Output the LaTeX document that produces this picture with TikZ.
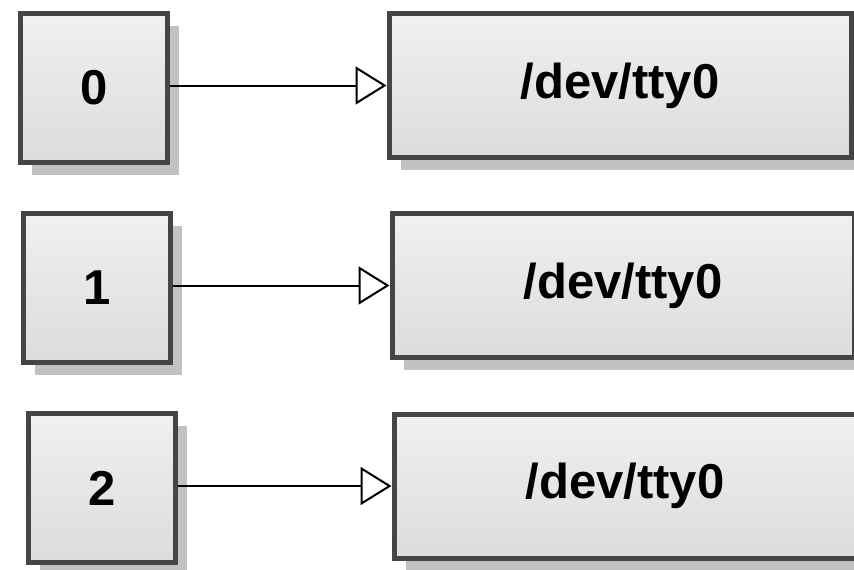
\documentclass[tikz,border=0pt]{standalone}
\usepackage{fontspec}
\setmainfont{Liberation Sans}
\usetikzlibrary{arrows.meta,shadows}
\definecolor{boxtop}{HTML}{F0F0F0}
\definecolor{boxbot}{HTML}{DCDCDC}
\definecolor{boxline}{HTML}{454545}
\definecolor{shadowc}{HTML}{C2C2C2}
\tikzset{
  basebox/.style={draw=boxline, line width=5pt, top color=boxtop, bottom color=boxbot,
    inner sep=0pt, font=\fontsize{49}{56}\selectfont\bfseries,
    drop shadow={shadow xshift=11.5pt, shadow yshift=-12pt, fill=shadowc, opacity=1}},
  numbox/.style={basebox, minimum width=147pt, minimum height=149pt},
  devbox/.style={basebox, minimum width=462pt, minimum height=144pt},
  link/.style={line width=2pt, -{Triangle[open, length=31pt, width=38pt, line width=2pt]}}
}
\begin{document}
\begin{tikzpicture}[x=1pt, y=-1pt]
\useasboundingbox (0,0) rectangle (854,570);
\clip (0,0) rectangle (854,570);
\node[numbox] (s0) at (94,88) {0};
\node[numbox] (s1) at (97,288) {1};
\node[numbox] (s2) at (102,488) {2};
\node[devbox] (b0) at (620,85.5) {/dev/tty0};
\node[devbox] (b1) at (623,285.5) {/dev/tty0};
\node[devbox] (b2) at (625,486) {/dev/tty0};
\draw[link] (s0.east |- b0) -- (b0.west);
\draw[link] (s1.east |- b1) -- (b1.west);
\draw[link] (s2.east |- b2) -- (b2.west);
\end{tikzpicture}
\end{document}
